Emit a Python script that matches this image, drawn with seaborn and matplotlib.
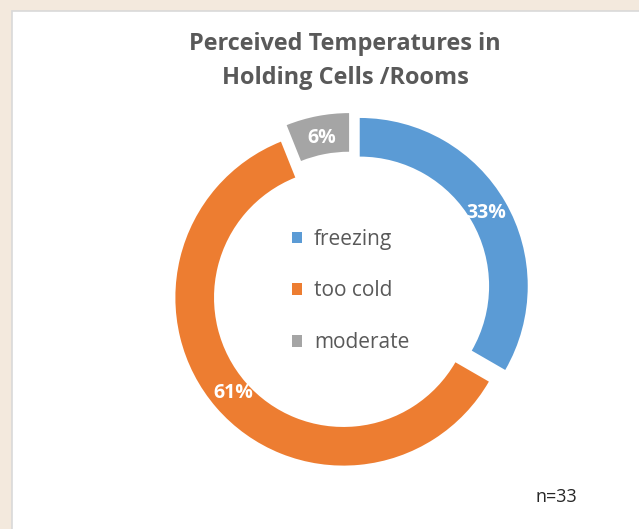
import matplotlib
matplotlib.use("Agg")
import matplotlib.pyplot as plt
import seaborn as sns
from matplotlib.patches import Rectangle, Patch

# data
categories = ["freezing", "too cold", "moderate"]
counts = [11, 20, 2]  # n=33
colors = ["#5B9BD5", "#ED7D31", "#A5A5A5"]
title = "Perceived Temperatures in\nHolding Cells /Rooms"
note = "n=33"

sns.set_theme(style="white")
plt.rcParams['font.family'] = ['Open Sans', 'DejaVu Sans']

W, H = 639, 529
fig = plt.figure(figsize=(W / 100, H / 100), dpi=100)
fig.patch.set_facecolor("#F3E9DD")

# white chart panel with a thin grey border
fig.patches.append(Rectangle((12 / W, -0.1), 1.2, (H - 11) / H + 0.1,
                             transform=fig.transFigure, facecolor="white",
                             edgecolor="#D9D9D9", linewidth=1.2, zorder=-10))

# donut centre and radius, in pixels
cx, cy, R, half = 351, H - 291, 168, 200
ax = fig.add_axes([(cx - half) / W, (cy - half) / H, 2 * half / W, 2 * half / H])
ax.set_facecolor("none")
ax.set_zorder(5)

wedges, texts, autotexts = ax.pie(
    counts, colors=colors, startangle=90, counterclock=False,
    explode=[0.06] * len(counts),
    wedgeprops=dict(width=0.23, edgecolor="none"),
    autopct=lambda p: f"{p:.0f}%", pctdistance=0.87,
    textprops=dict(color="white", fontsize=14, fontweight="bold"))
ax.set_xlim(-half / R, half / R)
ax.set_ylim(-half / R, half / R)
ax.set_aspect("equal")
ax.axis("off")

handles = [Patch(facecolor=c, edgecolor="none") for c in colors]
leg = ax.legend(handles, categories, loc="center", bbox_to_anchor=(0.5, 0.5),
                frameon=False, fontsize=15, labelspacing=1.48,
                handlelength=0.45, handleheight=0.45, handletextpad=0.6,
                labelcolor="#595959")

fig.text(345 / W, 1 - 61 / H, title, ha="center", va="center",
         fontsize=16.9, fontweight="bold", color="#595959", linespacing=1.55)
fig.text(556 / W, 1 - 497 / H, note, ha="center", va="center",
         fontsize=13, color="#262626")

fig.savefig("out.png", dpi=100)
